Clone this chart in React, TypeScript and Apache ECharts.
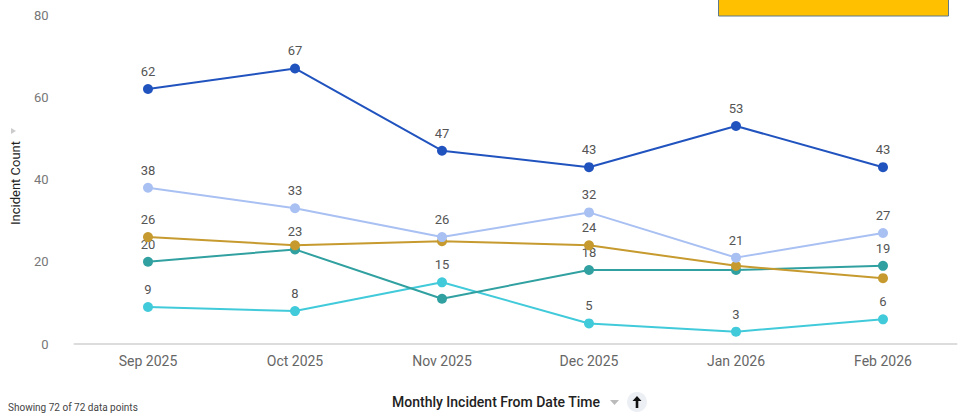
import React, { useEffect, useRef } from "react";
import * as echarts from "echarts";

const months = ["Sep 2025", "Oct 2025", "Nov 2025", "Dec 2025", "Jan 2026", "Feb 2026"];
const seriesNames = ["Series A", "Series B", "Series C", "Series D", "Series E"];
const darkBlue = [62, 67, 47, 43, 53, 43];
const lightBlue = [38, 33, 26, 32, 21, 27];
const gold = [26, 24, 25, 24, 19, 16];
const teal = [20, 23, 11, 18, 18, 19];
const cyan = [9, 8, 15, 5, 3, 6];
// indexes of points whose value label is not shown in the reference
const hiddenLabels: number[][] = [[], [], [1, 2, 4, 5], [2, 4], []];
const yTicks = { min: 0, max: 80, interval: 20 };

const colors = ["#2153BF", "#A9C0F3", "#C69A2E", "#31A0A0", "#41CADA"];

export default function App() {
  const ref = useRef<HTMLDivElement>(null);
  useEffect(() => {
    if (!ref.current) return;
    const chart = echarts.init(ref.current, undefined, { renderer: "svg" });
    const all = [darkBlue, lightBlue, gold, teal, cyan];
    const font = "Roboto, 'Noto Sans', sans-serif";
    chart.setOption({
      animation: false,
      grid: { left: 74.5, right: 5.5, top: 15, bottom: 70 },
      xAxis: {
        type: "category",
        data: months,
        boundaryGap: true,
        axisLine: { show: true, lineStyle: { color: "#dcdcdc", width: 2 } },
        axisTick: { show: false },
        axisLabel: { color: "#666", fontSize: 14, fontFamily: font, margin: 10 },
      },
      yAxis: {
        type: "value",
        min: yTicks.min,
        max: yTicks.max,
        interval: yTicks.interval,
        splitLine: { show: false },
        axisLine: { show: false },
        axisTick: { show: false },
        axisLabel: { color: "#777", fontSize: 13, fontFamily: font, margin: 26 },
      },
      series: all.map((vals, si) => ({
        type: "line",
        name: seriesNames[si],
        z: 10 - si,
        symbol: "circle",
        symbolSize: 10,
        lineStyle: { width: 2, color: colors[si] },
        itemStyle: { color: colors[si] },
        label: {
          show: true,
          position: "top",
          distance: 6,
          color: "#555",
          fontSize: 13,
          fontFamily: font,
        },
        data: vals.map((v, i) => ({
          value: v,
          label: { show: !hiddenLabels[si].includes(i) },
        })),
      })),
      graphic: [
        {
          type: "rect",
          shape: { x: 718.5, y: -2, width: 230, height: 18 },
          style: { fill: "#FFC000", stroke: "#5E7A8C", lineWidth: 1 },
        },
        {
          type: "text",
          x: 15,
          y: 183,
          rotation: Math.PI / 2,
          style: {
            text: "Incident Count",
            fill: "#222",
            fontSize: 13,
            fontFamily: font,
            align: "center",
            verticalAlign: "middle",
          },
        },
        {
          type: "polygon",
          shape: { points: [[11, 128], [16, 131], [11, 134]] },
          style: { fill: "#ccc" },
        },
        {
          type: "text",
          x: 496,
          y: 402,
          style: {
            text: "Monthly Incident From Date Time",
            fill: "#222",
            fontSize: 14,
            fontWeight: 500,
            fontFamily: font,
            align: "center",
            verticalAlign: "middle",
          },
        },
        {
          type: "polygon",
          shape: { points: [[610, 400], [619, 400], [614.5, 405]] },
          style: { fill: "#bbb" },
        },
        {
          type: "circle",
          shape: { cx: 637, cy: 402, r: 10 },
          style: { fill: "#eceff3" },
        },
        {
          type: "polygon",
          shape: { points: [[637, 396], [641.5, 401], [638.3, 401], [638.3, 408], [635.7, 408], [635.7, 401], [632.5, 401]] },
          style: { fill: "#111" },
        },
        {
          type: "text",
          x: 8,
          y: 402,
          style: {
            text: "Showing 72 of 72 data points",
            fill: "#444",
            fontSize: 10,
            fontFamily: font,
            verticalAlign: "top",
          },
        },
      ],
    });
    return () => chart.dispose();
  }, []);
  return (
    <div
      ref={ref}
      style={{ position: "absolute", left: 0, top: 0, width: 962, height: 414, background: "#fff" }}
    />
  );
}
